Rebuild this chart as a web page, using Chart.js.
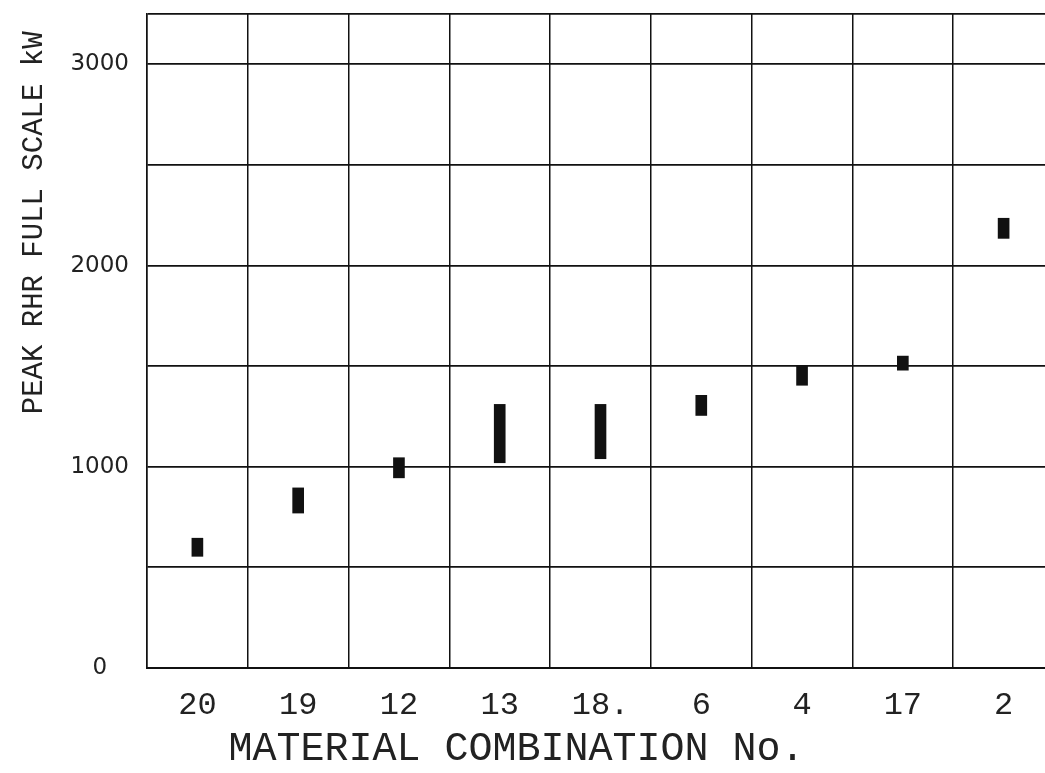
<!DOCTYPE html>
<html>
<head>
<meta charset="utf-8">
<script src="https://cdn.jsdelivr.net/npm/chart.js@4/dist/chart.umd.min.js"></script>
<style>
html,body{margin:0;padding:0;overflow:hidden;background:#fff;width:1045px;height:773px}
#wrap{width:1056px;height:773px;position:relative}
canvas{display:block}
</style>
</head>
<body>
<div id="wrap"><canvas id="c" width="1056" height="773" style="width:1056px;height:773px"></canvas></div>
<script>
// Material combination numbers (x categories)
const categories = ['20', '19', '12', '13', '18.', '6', '4', '17', '2'];
// Peak RHR full scale (kW): lower and upper ends of each range
const lowValues  = [555, 770, 945, 1020, 1040, 1255, 1405, 1480, 2135];
const highValues = [645, 895, 1045, 1310, 1310, 1355, 1500, 1550, 2235];
// Y axis: grid values and labelled values
const yGridValues = [0, 500, 1000, 1500, 2000, 2500, 3000, 3250];
const yTickLabels = [0, 1000, 2000, 3000];
const yMin = 0;
const yMax = 3250;
const xTitle = 'MATERIAL COMBINATION No.';
const yTitle = 'PEAK RHR FULL SCALE kW';

const ranges = categories.map((c, i) => [lowValues[i], highValues[i]]);

new Chart(document.getElementById('c'), {
  type: 'bar',
  data: {
    labels: categories,
    datasets: [{
      data: ranges,
      backgroundColor: '#111',
      borderWidth: 0,
      barThickness: 11,
      borderSkipped: false
    }]
  },
  options: {
    responsive: false,
    animation: false,
    layout: { padding: { left: 0, right: 2, top: 14, bottom: 0 } },
    plugins: { legend: { display: false }, tooltip: { enabled: false } },
    scales: {
      x: {
        offset: true,
        afterFit: (scale) => { scale.height = 105; scale.paddingLeft = 0; scale.paddingRight = 0; },
        grid: { offset: true, drawTicks: false, color: '#111', lineWidth: 1.5 },
        border: { display: true, color: '#111', width: 2 },
        ticks: {
          autoSkip: false, maxRotation: 0, minRotation: 0, padding: 18,
          color: '#222',
          font: { family: '"Liberation Mono", "DejaVu Sans Mono", monospace', size: 32 }
        },
        title: {
          display: true,
          text: xTitle + '       ',
          color: '#222',
          padding: { top: 0, bottom: 0 },
          font: { family: '"Liberation Mono", "DejaVu Sans Mono", monospace', size: 40, lineHeight: 1.2 }
        }
      },
      y: {
        min: yMin,
        max: yMax,
        afterBuildTicks: (scale) => { scale.ticks = yGridValues.map(v => ({ value: v })); },
        afterFit: (scale) => { scale.width = 147; scale.paddingTop = 0; scale.paddingBottom = 0; },
        grid: { drawTicks: false, color: '#111', lineWidth: 1.8 },
        border: { display: true, color: '#111', width: 1.5 },
        ticks: {
          padding: 18,
          crossAlign: 'center',
          color: '#222',
          font: { family: '"DejaVu Sans", sans-serif', size: 23 },
          callback: (v) => yTickLabels.includes(v) ? String(v) : ''
        },
        title: {
          display: true,
          text: yTitle + ' ',
          align: 'end',
          color: '#222',
          padding: { top: 20, bottom: 0 },
          font: { family: '"Liberation Mono", "DejaVu Sans Mono", monospace', size: 29, lineHeight: 1 }
        }
      }
    }
  }
});
</script>
</body>
</html>
